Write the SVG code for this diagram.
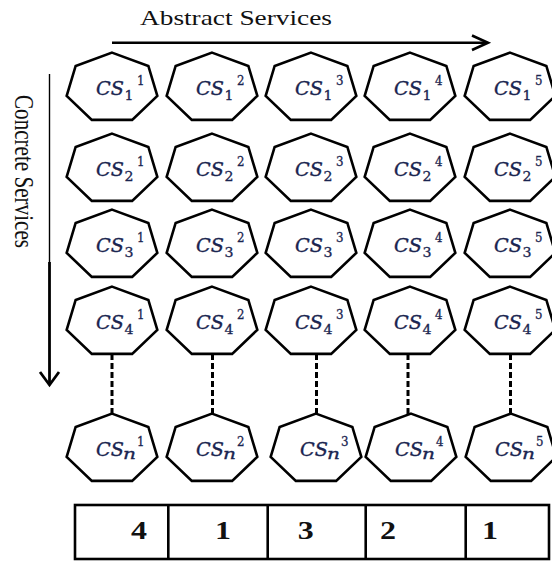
<svg xmlns="http://www.w3.org/2000/svg" xmlns:xlink="http://www.w3.org/1999/xlink" width="552" height="561" viewBox="0 0 552 561">
  <style>
    .hept { fill: #ffffff; stroke: #000000; stroke-width: 2.6; stroke-linejoin: miter; }
    .cs { font-family: "DejaVu Serif", "Liberation Serif", serif; font-style: italic; font-size: 18.5px; fill: #1a2550; stroke: #1a2550; stroke-width: 0.35; }
    .sub { font-family: "DejaVu Serif", "Liberation Serif", serif; font-size: 13.5px; fill: #1a2550; stroke: #1a2550; stroke-width: 0.3; }
    .subn { font-family: "DejaVu Serif", "Liberation Serif", serif; font-style: italic; font-size: 14px; fill: #1a2550; stroke: #1a2550; stroke-width: 0.3; }
    .sup { font-family: "DejaVu Serif", "Liberation Serif", serif; font-size: 12px; fill: #1a2550; stroke: #1a2550; stroke-width: 0.3; }
    .axis-label { font-family: "Liberation Serif", "Times New Roman", serif; font-size: 21px; fill: #111111; }
    .axis { stroke: #000000; fill: none; stroke-linecap: butt; }
    .dash { stroke: #000000; stroke-width: 3; stroke-dasharray: 6 3; fill: none; }
    .cell { fill: #ffffff; stroke: #000000; stroke-width: 2.6; }
    .num { font-family: "Liberation Serif", "Times New Roman", serif; font-weight: bold; font-size: 24.5px; fill: #111111; text-anchor: middle; }
  </style>
  <defs>
    <!-- squashed regular heptagon centred on the origin -->
    <polygon id="hept" class="hept" points="0,-35.4 36.35,-22.07 45.33,7.88 20.18,31.9 -20.18,31.9 -45.33,7.88 -36.35,-22.07"/>
  </defs>

  <rect x="0" y="0" width="552" height="561" fill="#ffffff"/>

  <!-- axes -->
  <g id="axes">
    <text class="axis-label" x="140" y="25" textLength="192" lengthAdjust="spacingAndGlyphs">Abstract Services</text>
    <line class="axis" x1="112" y1="42.7" x2="487" y2="42.7" stroke-width="2.6"/>
    <polyline class="axis" points="472,35.5 488,42.7 472,50" stroke-width="2.6"/>

    <text class="axis-label" transform="translate(15,95) scale(1.3,1) rotate(90)" x="0" y="0" textLength="153" lengthAdjust="spacingAndGlyphs">Concrete Services</text>
    <line class="axis" x1="49.5" y1="74" x2="49.5" y2="262" stroke-width="1.4"/>
    <line class="axis" x1="49.5" y1="262" x2="49.5" y2="384" stroke-width="2.8"/>
    <polyline class="axis" points="40,372 49.5,385 59,372" stroke-width="2.8"/>
  </g>

  <!-- dashed links between row 4 and row n -->
  <g id="connectors">
    <line class="dash" x1="112" y1="354" x2="112" y2="414"/>
    <line class="dash" x1="212.5" y1="354" x2="212.5" y2="414"/>
    <line class="dash" x1="316.5" y1="354" x2="316.5" y2="414"/>
    <line class="dash" x1="408" y1="354" x2="408" y2="414"/>
    <line class="dash" x1="510.5" y1="354" x2="510.5" y2="414"/>
  </g>

  <!-- row 1 -->
  <g id="cs1-1" transform="translate(112,88)"><use xlink:href="#hept"/><text class="cs" x="-16" y="6.5" textLength="28" lengthAdjust="spacingAndGlyphs">CS</text><text class="sub" x="12.5" y="11.5" textLength="9" lengthAdjust="spacingAndGlyphs">1</text><text class="sup" x="25" y="-3.5" textLength="7.5" lengthAdjust="spacingAndGlyphs">1</text></g>
  <g id="cs1-2" transform="translate(212,88)"><use xlink:href="#hept"/><text class="cs" x="-16" y="6.5" textLength="28" lengthAdjust="spacingAndGlyphs">CS</text><text class="sub" x="12.5" y="11.5" textLength="9" lengthAdjust="spacingAndGlyphs">1</text><text class="sup" x="25" y="-3.5" textLength="7.5" lengthAdjust="spacingAndGlyphs">2</text></g>
  <g id="cs1-3" transform="translate(311,88)"><use xlink:href="#hept"/><text class="cs" x="-16" y="6.5" textLength="28" lengthAdjust="spacingAndGlyphs">CS</text><text class="sub" x="12.5" y="11.5" textLength="9" lengthAdjust="spacingAndGlyphs">1</text><text class="sup" x="25" y="-3.5" textLength="7.5" lengthAdjust="spacingAndGlyphs">3</text></g>
  <g id="cs1-4" transform="translate(410,88)"><use xlink:href="#hept"/><text class="cs" x="-16" y="6.5" textLength="28" lengthAdjust="spacingAndGlyphs">CS</text><text class="sub" x="12.5" y="11.5" textLength="9" lengthAdjust="spacingAndGlyphs">1</text><text class="sup" x="25" y="-3.5" textLength="7.5" lengthAdjust="spacingAndGlyphs">4</text></g>
  <g id="cs1-5" transform="translate(510,88)"><use xlink:href="#hept"/><text class="cs" x="-16" y="6.5" textLength="28" lengthAdjust="spacingAndGlyphs">CS</text><text class="sub" x="12.5" y="11.5" textLength="9" lengthAdjust="spacingAndGlyphs">1</text><text class="sup" x="25" y="-3.5" textLength="7.5" lengthAdjust="spacingAndGlyphs">5</text></g>

  <!-- row 2 -->
  <g id="cs2-1" transform="translate(112,169)"><use xlink:href="#hept"/><text class="cs" x="-16" y="6.5" textLength="28" lengthAdjust="spacingAndGlyphs">CS</text><text class="sub" x="12.5" y="11.5" textLength="9" lengthAdjust="spacingAndGlyphs">2</text><text class="sup" x="25" y="-3.5" textLength="7.5" lengthAdjust="spacingAndGlyphs">1</text></g>
  <g id="cs2-2" transform="translate(212,169)"><use xlink:href="#hept"/><text class="cs" x="-16" y="6.5" textLength="28" lengthAdjust="spacingAndGlyphs">CS</text><text class="sub" x="12.5" y="11.5" textLength="9" lengthAdjust="spacingAndGlyphs">2</text><text class="sup" x="25" y="-3.5" textLength="7.5" lengthAdjust="spacingAndGlyphs">2</text></g>
  <g id="cs2-3" transform="translate(311,169)"><use xlink:href="#hept"/><text class="cs" x="-16" y="6.5" textLength="28" lengthAdjust="spacingAndGlyphs">CS</text><text class="sub" x="12.5" y="11.5" textLength="9" lengthAdjust="spacingAndGlyphs">2</text><text class="sup" x="25" y="-3.5" textLength="7.5" lengthAdjust="spacingAndGlyphs">3</text></g>
  <g id="cs2-4" transform="translate(410,169)"><use xlink:href="#hept"/><text class="cs" x="-16" y="6.5" textLength="28" lengthAdjust="spacingAndGlyphs">CS</text><text class="sub" x="12.5" y="11.5" textLength="9" lengthAdjust="spacingAndGlyphs">2</text><text class="sup" x="25" y="-3.5" textLength="7.5" lengthAdjust="spacingAndGlyphs">4</text></g>
  <g id="cs2-5" transform="translate(510,169)"><use xlink:href="#hept"/><text class="cs" x="-16" y="6.5" textLength="28" lengthAdjust="spacingAndGlyphs">CS</text><text class="sub" x="12.5" y="11.5" textLength="9" lengthAdjust="spacingAndGlyphs">2</text><text class="sup" x="25" y="-3.5" textLength="7.5" lengthAdjust="spacingAndGlyphs">5</text></g>

  <!-- row 3 -->
  <g id="cs3-1" transform="translate(112,245)"><use xlink:href="#hept"/><text class="cs" x="-16" y="6.5" textLength="28" lengthAdjust="spacingAndGlyphs">CS</text><text class="sub" x="12.5" y="11.5" textLength="9" lengthAdjust="spacingAndGlyphs">3</text><text class="sup" x="25" y="-3.5" textLength="7.5" lengthAdjust="spacingAndGlyphs">1</text></g>
  <g id="cs3-2" transform="translate(212,245)"><use xlink:href="#hept"/><text class="cs" x="-16" y="6.5" textLength="28" lengthAdjust="spacingAndGlyphs">CS</text><text class="sub" x="12.5" y="11.5" textLength="9" lengthAdjust="spacingAndGlyphs">3</text><text class="sup" x="25" y="-3.5" textLength="7.5" lengthAdjust="spacingAndGlyphs">2</text></g>
  <g id="cs3-3" transform="translate(311,245)"><use xlink:href="#hept"/><text class="cs" x="-16" y="6.5" textLength="28" lengthAdjust="spacingAndGlyphs">CS</text><text class="sub" x="12.5" y="11.5" textLength="9" lengthAdjust="spacingAndGlyphs">3</text><text class="sup" x="25" y="-3.5" textLength="7.5" lengthAdjust="spacingAndGlyphs">3</text></g>
  <g id="cs3-4" transform="translate(410,245)"><use xlink:href="#hept"/><text class="cs" x="-16" y="6.5" textLength="28" lengthAdjust="spacingAndGlyphs">CS</text><text class="sub" x="12.5" y="11.5" textLength="9" lengthAdjust="spacingAndGlyphs">3</text><text class="sup" x="25" y="-3.5" textLength="7.5" lengthAdjust="spacingAndGlyphs">4</text></g>
  <g id="cs3-5" transform="translate(510,245)"><use xlink:href="#hept"/><text class="cs" x="-16" y="6.5" textLength="28" lengthAdjust="spacingAndGlyphs">CS</text><text class="sub" x="12.5" y="11.5" textLength="9" lengthAdjust="spacingAndGlyphs">3</text><text class="sup" x="25" y="-3.5" textLength="7.5" lengthAdjust="spacingAndGlyphs">5</text></g>

  <!-- row 4 -->
  <g id="cs4-1" transform="translate(112,322)"><use xlink:href="#hept"/><text class="cs" x="-16" y="6.5" textLength="28" lengthAdjust="spacingAndGlyphs">CS</text><text class="sub" x="12.5" y="11.5" textLength="9" lengthAdjust="spacingAndGlyphs">4</text><text class="sup" x="25" y="-3.5" textLength="7.5" lengthAdjust="spacingAndGlyphs">1</text></g>
  <g id="cs4-2" transform="translate(212,322)"><use xlink:href="#hept"/><text class="cs" x="-16" y="6.5" textLength="28" lengthAdjust="spacingAndGlyphs">CS</text><text class="sub" x="12.5" y="11.5" textLength="9" lengthAdjust="spacingAndGlyphs">4</text><text class="sup" x="25" y="-3.5" textLength="7.5" lengthAdjust="spacingAndGlyphs">2</text></g>
  <g id="cs4-3" transform="translate(311,322)"><use xlink:href="#hept"/><text class="cs" x="-16" y="6.5" textLength="28" lengthAdjust="spacingAndGlyphs">CS</text><text class="sub" x="12.5" y="11.5" textLength="9" lengthAdjust="spacingAndGlyphs">4</text><text class="sup" x="25" y="-3.5" textLength="7.5" lengthAdjust="spacingAndGlyphs">3</text></g>
  <g id="cs4-4" transform="translate(410,322)"><use xlink:href="#hept"/><text class="cs" x="-16" y="6.5" textLength="28" lengthAdjust="spacingAndGlyphs">CS</text><text class="sub" x="12.5" y="11.5" textLength="9" lengthAdjust="spacingAndGlyphs">4</text><text class="sup" x="25" y="-3.5" textLength="7.5" lengthAdjust="spacingAndGlyphs">4</text></g>
  <g id="cs4-5" transform="translate(510,322)"><use xlink:href="#hept"/><text class="cs" x="-16" y="6.5" textLength="28" lengthAdjust="spacingAndGlyphs">CS</text><text class="sub" x="12.5" y="11.5" textLength="9" lengthAdjust="spacingAndGlyphs">4</text><text class="sup" x="25" y="-3.5" textLength="7.5" lengthAdjust="spacingAndGlyphs">5</text></g>

  <!-- row n -->
  <g id="csn-1" transform="translate(112,449)"><use xlink:href="#hept"/><text class="cs" x="-16" y="6.5" textLength="28" lengthAdjust="spacingAndGlyphs">CS</text><text class="subn" x="11" y="10" textLength="13" lengthAdjust="spacingAndGlyphs">n</text><text class="sup" x="25" y="-3.5" textLength="7.5" lengthAdjust="spacingAndGlyphs">1</text></g>
  <g id="csn-2" transform="translate(212,449)"><use xlink:href="#hept"/><text class="cs" x="-16" y="6.5" textLength="28" lengthAdjust="spacingAndGlyphs">CS</text><text class="subn" x="11" y="10" textLength="13" lengthAdjust="spacingAndGlyphs">n</text><text class="sup" x="25" y="-3.5" textLength="7.5" lengthAdjust="spacingAndGlyphs">2</text></g>
  <g id="csn-3" transform="translate(316,449)"><use xlink:href="#hept"/><text class="cs" x="-16" y="6.5" textLength="28" lengthAdjust="spacingAndGlyphs">CS</text><text class="subn" x="11" y="10" textLength="13" lengthAdjust="spacingAndGlyphs">n</text><text class="sup" x="25" y="-3.5" textLength="7.5" lengthAdjust="spacingAndGlyphs">3</text></g>
  <g id="csn-4" transform="translate(411,449)"><use xlink:href="#hept"/><text class="cs" x="-16" y="6.5" textLength="28" lengthAdjust="spacingAndGlyphs">CS</text><text class="subn" x="11" y="10" textLength="13" lengthAdjust="spacingAndGlyphs">n</text><text class="sup" x="25" y="-3.5" textLength="7.5" lengthAdjust="spacingAndGlyphs">4</text></g>
  <g id="csn-5" transform="translate(511,449)"><use xlink:href="#hept"/><text class="cs" x="-16" y="6.5" textLength="28" lengthAdjust="spacingAndGlyphs">CS</text><text class="subn" x="11" y="10" textLength="13" lengthAdjust="spacingAndGlyphs">n</text><text class="sup" x="25" y="-3.5" textLength="7.5" lengthAdjust="spacingAndGlyphs">5</text></g>

  <!-- selection vector -->
  <g id="selection">
    <rect class="cell" x="75" y="505" width="474" height="54"/>
    <line class="cell" x1="168.3" y1="505" x2="168.3" y2="559"/>
    <line class="cell" x1="267.7" y1="505" x2="267.7" y2="559"/>
    <line class="cell" x1="365.7" y1="505" x2="365.7" y2="559"/>
    <line class="cell" x1="465.7" y1="505" x2="465.7" y2="559"/>
    <text class="num" x="139" y="539" textLength="16" lengthAdjust="spacingAndGlyphs">4</text>
    <text class="num" x="223" y="539" textLength="16" lengthAdjust="spacingAndGlyphs">1</text>
    <text class="num" x="305.7" y="539" textLength="16" lengthAdjust="spacingAndGlyphs">3</text>
    <text class="num" x="388" y="539" textLength="16" lengthAdjust="spacingAndGlyphs">2</text>
    <text class="num" x="490" y="539" textLength="16" lengthAdjust="spacingAndGlyphs">1</text>
  </g>
</svg>
